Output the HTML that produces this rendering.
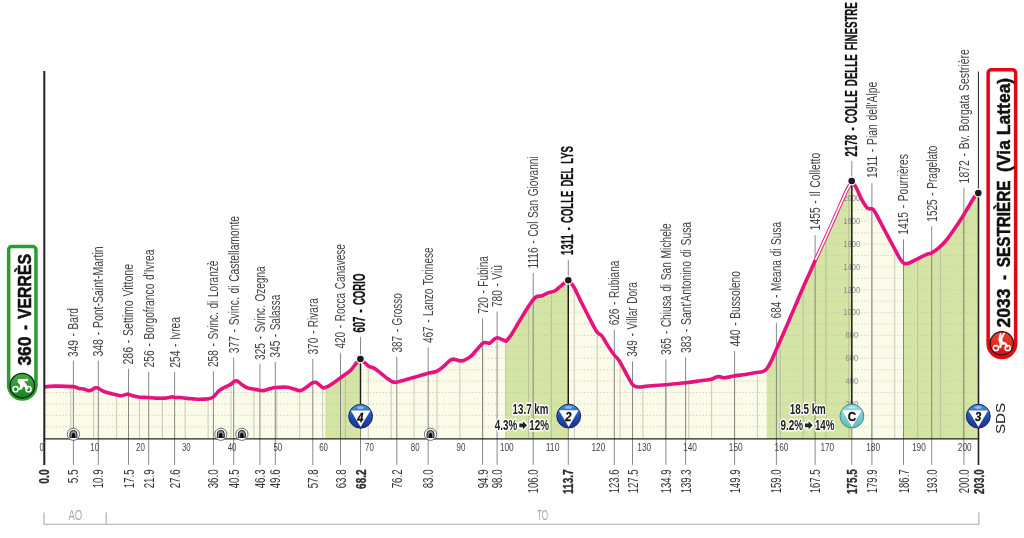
<!DOCTYPE html>
<html lang="it"><head><meta charset="utf-8"><title>Tappa 20 - Verrès - Sestrière (Via Lattea)</title>
<style>html,body{margin:0;padding:0;background:#fff}body{width:1024px;height:538px;overflow:hidden}svg{display:block}text{font-family:"Liberation Sans",Arial,Helvetica,sans-serif}.l{font-size:15px;fill:#444;word-spacing:1.2px}.b{font-weight:bold;fill:#111;font-size:16px;word-spacing:2.5px;stroke:#111;stroke-width:0.3px}.k{font-size:10px;fill:#444}.d{font-size:15px;fill:#333}.a{font-size:9px;fill:#8a8a8a}.g{font-size:14.5px;fill:#aaa}.t{font-size:19.5px;font-weight:bold;fill:#111}.c{font-size:15px;font-weight:bold;fill:#222}</style></head><body>
<svg width="1024" height="538" viewBox="0 0 1024 538">
<defs>
<clipPath id="cp"><polygon points="44.3,438.9 44.4,386.9 54.8,386.1 72.8,386.6 79.1,388.4 83.8,389.1 88.8,390.6 91.6,390.0 94.7,388.1 98.1,388.1 102.5,390.9 108.8,393.1 115.0,394.4 120.5,395.8 125.2,394.7 128.3,394.2 133.8,396.1 140.0,397.2 147.8,397.5 155.6,398.1 165.0,398.1 168.9,397.5 172.0,396.9 175.9,397.5 180.6,397.5 186.9,398.4 193.1,398.9 199.4,399.3 208.8,398.8 213.4,396.9 218.9,390.9 224.4,387.5 230.6,384.4 234.5,381.2 237.7,381.2 241.6,384.4 247.8,388.0 255.6,389.4 263.4,390.6 269.7,388.8 275.9,387.5 286.9,387.2 293.1,388.8 300.2,390.6 305.6,387.8 311.9,383.1 315.8,382.3 319.7,385.2 323.1,388.0 327.5,386.7 333.8,382.8 340.0,378.2 344.7,374.7 350.9,370.0 356.4,363.0 360.3,359.1 365.0,363.0 368.9,366.4 374.4,368.4 380.6,373.1 386.9,378.1 391.6,381.4 396.2,382.2 405.6,379.7 418.1,376.2 429.1,373.1 436.9,371.2 443.1,366.9 449.4,360.9 453.3,359.1 460.3,360.9 465.0,359.8 471.2,355.9 477.5,348.9 483.0,343.1 486.9,342.7 490.0,343.1 493.9,339.5 497.2,337.7 501.7,339.4 506.1,341.2 510.8,335.5 518.6,322.5 526.5,309.5 533.0,299.8 536.9,296.5 542.1,295.7 548.6,292.6 555.1,290.7 561.6,285.3 568.1,280.3 573.3,286.0 581.1,301.7 589.0,317.3 596.8,331.6 602.0,336.0 607.2,344.6 613.7,354.3 618.9,360.3 625.4,372.0 631.9,383.7 635.8,386.6 641.0,387.0 645.6,386.2 665.9,384.7 686.2,382.8 700.3,380.8 711.2,379.2 715.9,377.2 719.1,376.6 723.8,377.7 730.0,376.9 736.2,375.6 745.6,374.5 755.0,372.7 762.8,371.6 766.7,368.9 770.6,362.4 775.8,350.7 781.0,339.0 788.9,320.7 796.7,302.5 804.5,284.3 811.0,270.0 816.2,258.2 824.0,241.3 836.4,213.7 845.9,192.1 850.6,183.3 851.6,181.3 856.1,187.4 861.2,198.6 866.3,206.8 869.4,208.8 872.9,209.2 876.6,215.0 884.7,230.3 892.9,245.6 900.1,258.9 904.2,263.6 909.3,263.0 917.4,258.9 925.6,254.8 931.8,252.8 937.9,248.7 946.1,240.5 954.2,229.3 962.4,217.0 968.5,206.8 974.7,196.6 978.2,193.1 978.4,438.9"/></clipPath>
<linearGradient id="gb" x1="0" y1="0" x2="0" y2="1"><stop offset="0" stop-color="#4f9bdc"/><stop offset="0.45" stop-color="#2456b4"/><stop offset="1" stop-color="#1a2f8c"/></linearGradient>
<linearGradient id="gc" x1="0" y1="0" x2="0" y2="1"><stop offset="0" stop-color="#9adada"/><stop offset="1" stop-color="#62bcbc"/></linearGradient>
<linearGradient id="gg" x1="0" y1="0" x2="0" y2="1"><stop offset="0" stop-color="#3fae3a"/><stop offset="1" stop-color="#18802a"/></linearGradient>
<linearGradient id="gr" x1="0" y1="0" x2="0" y2="1"><stop offset="0" stop-color="#f0432e"/><stop offset="1" stop-color="#d01818"/></linearGradient>
<g id="tun"><circle r="6.1" fill="#fff" stroke="#4a4a4a" stroke-width="0.8"/><path d="M-3.5,3.1 V-0.4 A3.5,3.5 0 0 1 3.5,-0.4 V3.1 Z" fill="#8f8f8f" stroke="#23232b" stroke-width="1"/><path d="M-1.6,3.3 V0.2 A1.6,1.6 0 0 1 1.6,0.2 V3.3 Z" fill="#000"/></g>
</defs>
<rect width="1024" height="538" fill="#fff"/>
<polygon points="44.3,438.9 44.4,386.9 54.8,386.1 72.8,386.6 79.1,388.4 83.8,389.1 88.8,390.6 91.6,390.0 94.7,388.1 98.1,388.1 102.5,390.9 108.8,393.1 115.0,394.4 120.5,395.8 125.2,394.7 128.3,394.2 133.8,396.1 140.0,397.2 147.8,397.5 155.6,398.1 165.0,398.1 168.9,397.5 172.0,396.9 175.9,397.5 180.6,397.5 186.9,398.4 193.1,398.9 199.4,399.3 208.8,398.8 213.4,396.9 218.9,390.9 224.4,387.5 230.6,384.4 234.5,381.2 237.7,381.2 241.6,384.4 247.8,388.0 255.6,389.4 263.4,390.6 269.7,388.8 275.9,387.5 286.9,387.2 293.1,388.8 300.2,390.6 305.6,387.8 311.9,383.1 315.8,382.3 319.7,385.2 323.1,388.0 327.5,386.7 333.8,382.8 340.0,378.2 344.7,374.7 350.9,370.0 356.4,363.0 360.3,359.1 365.0,363.0 368.9,366.4 374.4,368.4 380.6,373.1 386.9,378.1 391.6,381.4 396.2,382.2 405.6,379.7 418.1,376.2 429.1,373.1 436.9,371.2 443.1,366.9 449.4,360.9 453.3,359.1 460.3,360.9 465.0,359.8 471.2,355.9 477.5,348.9 483.0,343.1 486.9,342.7 490.0,343.1 493.9,339.5 497.2,337.7 501.7,339.4 506.1,341.2 510.8,335.5 518.6,322.5 526.5,309.5 533.0,299.8 536.9,296.5 542.1,295.7 548.6,292.6 555.1,290.7 561.6,285.3 568.1,280.3 573.3,286.0 581.1,301.7 589.0,317.3 596.8,331.6 602.0,336.0 607.2,344.6 613.7,354.3 618.9,360.3 625.4,372.0 631.9,383.7 635.8,386.6 641.0,387.0 645.6,386.2 665.9,384.7 686.2,382.8 700.3,380.8 711.2,379.2 715.9,377.2 719.1,376.6 723.8,377.7 730.0,376.9 736.2,375.6 745.6,374.5 755.0,372.7 762.8,371.6 766.7,368.9 770.6,362.4 775.8,350.7 781.0,339.0 788.9,320.7 796.7,302.5 804.5,284.3 811.0,270.0 816.2,258.2 824.0,241.3 836.4,213.7 845.9,192.1 850.6,183.3 851.6,181.3 856.1,187.4 861.2,198.6 866.3,206.8 869.4,208.8 872.9,209.2 876.6,215.0 884.7,230.3 892.9,245.6 900.1,258.9 904.2,263.6 909.3,263.0 917.4,258.9 925.6,254.8 931.8,252.8 937.9,248.7 946.1,240.5 954.2,229.3 962.4,217.0 968.5,206.8 974.7,196.6 978.2,193.1 978.4,438.9" fill="#fbfbe9"/>
<g clip-path="url(#cp)">
<rect x="325.3" y="150" width="35.2" height="288.9" fill="#d4e4a4"/>
<rect x="505.8" y="150" width="62.5" height="288.9" fill="#d4e4a4"/>
<rect x="766.7" y="150" width="85.1" height="288.9" fill="#d4e4a4"/>
<rect x="903.5" y="150" width="74.9" height="288.9" fill="#d4e4a4"/>
<path d="M70.8,150V438.9M93.7,150V438.9M116.6,150V438.9M139.5,150V438.9M162.4,150V438.9M185.2,150V438.9M208.1,150V438.9M231.0,150V438.9M253.9,150V438.9M276.8,150V438.9M299.7,150V438.9M322.6,150V438.9M345.4,150V438.9M368.3,150V438.9M391.2,150V438.9M414.1,150V438.9M437.0,150V438.9M459.9,150V438.9M482.7,150V438.9M505.6,150V438.9M528.5,150V438.9M551.4,150V438.9M574.3,150V438.9M597.2,150V438.9M620.1,150V438.9M642.9,150V438.9M665.8,150V438.9M688.7,150V438.9M711.6,150V438.9M734.5,150V438.9M757.4,150V438.9M780.2,150V438.9M803.1,150V438.9M826.0,150V438.9M848.9,150V438.9M871.8,150V438.9M894.7,150V438.9M917.6,150V438.9M940.4,150V438.9M963.3,150V438.9" stroke="#a3a392" stroke-width="0.7" fill="none" opacity="0.8"/>
<path d="M46,426.8H978M46,415.4H978M46,404.0H978M46,392.5H978M46,381.1H978M46,369.7H978M46,358.3H978M46,346.9H978M46,335.4H978M46,324.0H978M46,312.6H978M46,301.2H978M46,289.8H978M46,278.3H978M46,266.9H978M46,255.5H978M46,244.1H978M46,232.7H978M46,221.2H978M46,209.8H978M46,198.4H978M46,187.0H978" stroke="#c2c2b4" stroke-width="1" stroke-dasharray="1.2 2.1" fill="none" opacity="0.8"/>
</g>
<path d="M73.4,360.5V464.9M98.3,360.5V464.9M128.5,368.8V464.9M148.7,371.9V464.9M174.6,371.9V464.9M213.4,371.3V464.9M233.7,357.6V464.9M259.9,363.8V464.9M275.3,361.7V464.9M312.8,358.8V464.9M340.5,352.9V464.9M360.5,336.9V464.9M396.8,356.8V464.9M428.2,347.2V464.9M482.6,318.3V464.9M497.1,311.4V464.9M533.2,272.9V464.9M568.3,259.7V464.9M614.3,329.6V464.9M632.5,361.3V464.9M665.9,359.3V464.9M685.6,357.4V464.9M734.6,350.9V464.9M776.4,322.8V464.9M815.1,235.2V464.9M851.8,160.8V464.9M871.9,183.2V464.9M903.5,239.4V464.9M931.7,226.4V464.9M963.9,187.8V464.9" stroke="#7a7a7a" stroke-width="0.9" fill="none"/>
<text class="a" x="851.8" y="406.8" text-anchor="middle" textLength="12.6" lengthAdjust="spacingAndGlyphs">200</text>
<text class="a" x="851.8" y="383.9" text-anchor="middle" textLength="12.6" lengthAdjust="spacingAndGlyphs">400</text>
<text class="a" x="851.8" y="361.1" text-anchor="middle" textLength="12.6" lengthAdjust="spacingAndGlyphs">600</text>
<text class="a" x="851.8" y="338.2" text-anchor="middle" textLength="12.6" lengthAdjust="spacingAndGlyphs">800</text>
<text class="a" x="851.8" y="315.4" text-anchor="middle" textLength="17" lengthAdjust="spacingAndGlyphs">1000</text>
<text class="a" x="851.8" y="292.6" text-anchor="middle" textLength="17" lengthAdjust="spacingAndGlyphs">1200</text>
<text class="a" x="851.8" y="269.7" text-anchor="middle" textLength="17" lengthAdjust="spacingAndGlyphs">1400</text>
<text class="a" x="851.8" y="246.9" text-anchor="middle" textLength="17" lengthAdjust="spacingAndGlyphs">1600</text>
<text class="a" x="851.8" y="224.0" text-anchor="middle" textLength="17" lengthAdjust="spacingAndGlyphs">1800</text>
<text class="a" x="851.8" y="201.2" text-anchor="middle" textLength="17" lengthAdjust="spacingAndGlyphs">2000</text>
<path d="M44.40,386.90 C44.40,386.90 50.07,386.15 54.80,386.10 C59.53,386.05 68.75,386.22 72.80,386.60 C76.85,386.98 77.27,387.98 79.10,388.40 C80.92,388.82 82.14,388.73 83.75,389.10 C85.36,389.47 87.44,390.45 88.75,390.60 C90.06,390.75 90.61,390.42 91.60,390.00 C92.59,389.58 93.62,388.42 94.70,388.10 C95.78,387.78 96.80,387.63 98.10,388.10 C99.40,388.57 100.72,390.07 102.50,390.90 C104.28,391.73 106.67,392.52 108.75,393.10 C110.83,393.68 113.04,393.95 115.00,394.40 C116.96,394.85 118.80,395.75 120.50,395.80 C122.20,395.85 123.90,394.97 125.20,394.70 C126.50,394.43 126.88,393.97 128.30,394.20 C129.73,394.43 131.80,395.60 133.75,396.10 C135.70,396.60 137.66,396.97 140.00,397.20 C142.34,397.43 145.20,397.35 147.80,397.50 C150.40,397.65 152.73,398.00 155.60,398.10 C158.47,398.20 162.78,398.20 165.00,398.10 C167.22,398.00 167.73,397.70 168.90,397.50 C170.07,397.30 170.83,396.90 172.00,396.90 C173.17,396.90 174.47,397.40 175.90,397.50 C177.33,397.60 178.77,397.35 180.60,397.50 C182.43,397.65 184.82,398.17 186.90,398.40 C188.98,398.63 191.02,398.75 193.10,398.90 C195.18,399.05 196.79,399.32 199.40,399.30 C202.01,399.28 206.42,399.15 208.75,398.75 C211.08,398.35 211.71,398.21 213.40,396.90 C215.09,395.59 217.07,392.47 218.90,390.90 C220.73,389.33 222.45,388.58 224.40,387.50 C226.35,386.42 228.92,385.44 230.60,384.40 C232.28,383.36 233.32,381.77 234.50,381.25 C235.68,380.73 236.52,380.73 237.70,381.25 C238.88,381.77 239.92,383.27 241.60,384.40 C243.28,385.52 245.47,387.17 247.80,388.00 C250.13,388.83 253.00,388.97 255.60,389.40 C258.20,389.83 261.05,390.71 263.40,390.60 C265.75,390.49 267.62,389.27 269.70,388.75 C271.78,388.23 273.03,387.76 275.90,387.50 C278.77,387.24 284.03,386.99 286.90,387.20 C289.77,387.41 290.88,388.18 293.10,388.75 C295.32,389.32 298.12,390.76 300.20,390.60 C302.28,390.44 303.65,389.05 305.60,387.80 C307.55,386.55 310.20,384.02 311.90,383.10 C313.60,382.18 314.50,381.95 315.80,382.30 C317.10,382.65 318.48,384.25 319.70,385.20 C320.92,386.15 323.10,388.00 323.10,388.00 C323.10,388.00 325.73,387.57 327.50,386.70 C329.27,385.83 331.67,384.22 333.75,382.80 C335.83,381.38 338.18,379.55 340.00,378.20 C341.82,376.85 342.88,376.07 344.70,374.70 C346.52,373.33 348.95,371.95 350.90,370.00 C352.85,368.05 354.83,364.82 356.40,363.00 C357.97,361.18 360.30,359.10 360.30,359.10 C360.30,359.10 363.57,361.78 365.00,363.00 C366.43,364.22 367.33,365.50 368.90,366.40 C370.47,367.30 372.45,367.28 374.40,368.40 C376.35,369.52 378.52,371.48 380.60,373.10 C382.68,374.72 385.07,376.72 386.90,378.10 C388.73,379.48 390.04,380.72 391.60,381.40 C393.16,382.08 393.92,382.48 396.25,382.20 C398.58,381.92 401.96,380.69 405.60,379.70 C409.24,378.71 414.18,377.35 418.10,376.25 C422.02,375.15 425.97,373.93 429.10,373.10 C432.23,372.27 434.57,372.28 436.90,371.25 C439.23,370.22 441.02,368.62 443.10,366.90 C445.18,365.17 447.70,362.20 449.40,360.90 C451.10,359.60 451.48,359.10 453.30,359.10 C455.12,359.10 458.35,360.78 460.30,360.90 C462.25,361.02 463.18,360.63 465.00,359.80 C466.82,358.97 469.17,357.72 471.25,355.90 C473.33,354.08 475.54,351.03 477.50,348.90 C479.46,346.77 481.43,344.13 483.00,343.10 C484.57,342.07 485.73,342.70 486.90,342.70 C488.07,342.70 488.83,343.63 490.00,343.10 C491.17,342.57 492.70,340.40 493.90,339.50 C495.10,338.60 495.90,337.72 497.20,337.70 C498.50,337.68 500.22,338.81 501.70,339.40 C503.18,339.99 506.10,341.25 506.10,341.25 C506.10,341.25 508.72,338.62 510.80,335.50 C512.88,332.38 515.98,326.83 518.60,322.50 C521.22,318.17 524.10,313.28 526.50,309.50 C528.90,305.72 531.27,301.97 533.00,299.80 C534.73,297.63 535.38,297.18 536.90,296.50 C538.42,295.82 540.15,296.35 542.10,295.70 C544.05,295.05 546.43,293.43 548.60,292.60 C550.77,291.77 552.93,291.92 555.10,290.70 C557.27,289.48 559.43,287.03 561.60,285.30 C563.77,283.57 568.10,280.30 568.10,280.30 C568.10,280.30 571.13,282.43 573.30,286.00 C575.47,289.57 578.48,296.48 581.10,301.70 C583.72,306.92 586.38,312.32 589.00,317.30 C591.62,322.28 594.63,328.48 596.80,331.60 C598.97,334.72 600.27,333.83 602.00,336.00 C603.73,338.17 605.25,341.55 607.20,344.60 C609.15,347.65 611.75,351.68 613.70,354.30 C615.65,356.92 616.95,357.35 618.90,360.30 C620.85,363.25 623.23,368.10 625.40,372.00 C627.57,375.90 630.17,381.27 631.90,383.70 C633.63,386.13 634.28,386.05 635.80,386.60 C637.32,387.15 639.37,387.06 641.00,387.00 C642.63,386.94 642.51,386.54 645.60,386.25 C649.75,385.87 659.12,385.27 665.90,384.70 C672.67,384.12 680.52,383.45 686.25,382.80 C691.98,382.15 696.13,381.40 700.30,380.80 C704.47,380.20 708.65,379.80 711.25,379.20 C713.85,378.60 714.59,377.63 715.90,377.20 C717.21,376.77 717.79,376.52 719.10,376.60 C720.41,376.68 721.93,377.65 723.75,377.70 C725.57,377.75 727.92,377.25 730.00,376.90 C732.08,376.55 733.65,376.00 736.25,375.60 C738.85,375.20 742.48,374.98 745.60,374.50 C748.73,374.02 752.13,373.18 755.00,372.70 C757.87,372.22 760.85,372.23 762.80,371.60 C764.75,370.97 765.40,370.43 766.70,368.90 C768.00,367.37 769.08,365.43 770.60,362.40 C772.12,359.37 774.07,354.60 775.80,350.70 C777.53,346.80 778.82,344.00 781.00,339.00 C783.18,334.00 786.28,326.78 788.90,320.70 C791.52,314.62 794.10,308.57 796.70,302.50 C799.30,296.43 802.12,289.72 804.50,284.30 C806.88,278.88 809.05,274.35 811.00,270.00 C812.95,265.65 814.03,262.98 816.20,258.20 C818.37,253.42 820.63,248.72 824.00,241.30 C827.37,233.88 832.75,221.90 836.40,213.70 C840.05,205.50 843.53,197.17 845.90,192.10 C848.27,187.03 849.65,185.10 850.60,183.30 C851.30,181.98 851.60,181.30 851.60,181.30 C851.60,181.30 854.50,184.52 856.10,187.40 C857.70,190.28 859.50,195.37 861.20,198.60 C862.90,201.83 864.93,205.10 866.30,206.80 C867.67,208.50 868.30,208.40 869.40,208.80 C870.50,209.20 871.70,208.17 872.90,209.20 C874.10,210.23 874.63,211.48 876.60,215.00 C878.57,218.52 881.98,225.20 884.70,230.30 C887.42,235.40 890.33,240.83 892.90,245.60 C895.47,250.37 898.22,255.90 900.10,258.90 C901.98,261.90 904.20,263.60 904.20,263.60 C904.20,263.60 907.10,263.78 909.30,263.00 C911.50,262.22 914.68,260.27 917.40,258.90 C920.12,257.53 923.21,255.82 925.60,254.80 C927.99,253.78 929.70,253.82 931.75,252.80 C933.80,251.78 935.51,250.75 937.90,248.70 C940.29,246.65 943.38,243.73 946.10,240.50 C948.82,237.27 951.48,233.22 954.20,229.30 C956.92,225.38 960.02,220.75 962.40,217.00 C964.78,213.25 966.45,210.20 968.50,206.80 C970.55,203.40 973.08,198.88 974.70,196.60 C976.32,194.32 978.20,193.10 978.20,193.10" fill="none" stroke="#e6137f" stroke-width="3.6" stroke-linejoin="round" stroke-linecap="butt"/>
<path d="M815.4,260.0 L816.2,258.2 L824.0,241.3 L836.4,213.7 L845.9,192.1 L850.2,184.2" fill="none" stroke="#fff" stroke-width="1.7" stroke-linecap="butt"/>
<path d="M360.5,359V404M568.3,280V404M851.8,181V404" stroke="#1a1a1a" stroke-width="1.4" fill="none"/>
<path d="M978.4,71.5V193" stroke="#222" stroke-width="1" fill="none"/>
<path d="M44.3,71V464.9" stroke="#222" stroke-width="2" fill="none"/>
<path d="M43.3,438.9H979.2" stroke="#222" stroke-width="1.4" fill="none"/>
<path d="M978.5,193V464.9" stroke="#222" stroke-width="1.6" fill="none"/>
<circle cx="360.4" cy="359.0" r="3.9" fill="#1a1a1a" stroke="#fff" stroke-width="1.2"/>
<circle cx="568.3" cy="280.2" r="3.9" fill="#1a1a1a" stroke="#fff" stroke-width="1.2"/>
<circle cx="851.7" cy="181.0" r="3.9" fill="#1a1a1a" stroke="#fff" stroke-width="1.2"/>
<circle cx="978.3" cy="193.1" r="3.9" fill="#1a1a1a" stroke="#fff" stroke-width="1.2"/>
<use href="#tun" x="73.4" y="434.3"/>
<use href="#tun" x="220.8" y="434.3"/>
<use href="#tun" x="241.9" y="434.3"/>
<use href="#tun" x="430.5" y="434.3"/>
<g transform="translate(360.6,416.3)">
<circle r="11.9" fill="url(#gb)" stroke="#14206a" stroke-width="1"/>
<ellipse cx="0" cy="-8.6" rx="3.4" ry="1.3" fill="#fff" opacity="0.45"/>
<polygon points="-9.8,-5.8 9.8,-5.8 0,10.8" fill="#fff"/>
<text x="-0.3" y="5.2" text-anchor="middle" textLength="6.2" lengthAdjust="spacingAndGlyphs" style="font-size:12px;font-weight:bold;font-style:italic;fill:#111" stroke="#111" stroke-width="0.3">4</text>
</g>
<g transform="translate(568.7,416.1)">
<circle r="11.9" fill="url(#gb)" stroke="#14206a" stroke-width="1"/>
<ellipse cx="0" cy="-8.6" rx="3.4" ry="1.3" fill="#fff" opacity="0.45"/>
<polygon points="-9.8,-5.8 9.8,-5.8 0,10.8" fill="#fff"/>
<text x="-0.3" y="5.2" text-anchor="middle" textLength="6.2" lengthAdjust="spacingAndGlyphs" style="font-size:12px;font-weight:bold;font-style:italic;fill:#111" stroke="#111" stroke-width="0.3">2</text>
</g>
<g transform="translate(851.9,416.1)">
<circle r="11.9" fill="url(#gc)" stroke="#3f9090" stroke-width="1"/>
<ellipse cx="0" cy="-8.6" rx="3.4" ry="1.3" fill="#fff" opacity="0.45"/>
<polygon points="-9.8,-5.8 9.8,-5.8 0,10.8" fill="#fff"/>
<text x="0.0" y="5.2" text-anchor="middle" textLength="8.4" lengthAdjust="spacingAndGlyphs" style="font-size:12px;font-weight:bold;fill:#111" stroke="#111" stroke-width="0.3">C</text>
</g>
<g transform="translate(978.3,416.2)">
<circle r="11.9" fill="url(#gb)" stroke="#14206a" stroke-width="1"/>
<ellipse cx="0" cy="-8.6" rx="3.4" ry="1.3" fill="#fff" opacity="0.45"/>
<polygon points="-9.8,-5.8 9.8,-5.8 0,10.8" fill="#fff"/>
<text x="-0.3" y="5.2" text-anchor="middle" textLength="6.2" lengthAdjust="spacingAndGlyphs" style="font-size:12px;font-weight:bold;font-style:italic;fill:#111" stroke="#111" stroke-width="0.3">3</text>
</g>
<text class="l" transform="translate(78.3,357.0) rotate(-90)" textLength="48.9" lengthAdjust="spacingAndGlyphs">349 - Bard</text>
<text class="l" transform="translate(103.2,356.6) rotate(-90)" textLength="110.2" lengthAdjust="spacingAndGlyphs">348 - Pont-Saint-Martin</text>
<text class="l" transform="translate(133.4,364.5) rotate(-90)" textLength="100.5" lengthAdjust="spacingAndGlyphs">286 - Settimo Vittone</text>
<text class="l" transform="translate(153.6,367.4) rotate(-90)" textLength="117.9" lengthAdjust="spacingAndGlyphs">256 - Borgofranco d'Ivrea</text>
<text class="l" transform="translate(179.5,367.8) rotate(-90)" textLength="50.8" lengthAdjust="spacingAndGlyphs">254 - Ivrea</text>
<text class="l" transform="translate(218.3,367.0) rotate(-90)" textLength="106.4" lengthAdjust="spacingAndGlyphs">258 - Svinc. di Loranzè</text>
<text class="l" transform="translate(238.6,353.3) rotate(-90)" textLength="137.3" lengthAdjust="spacingAndGlyphs">377 - Svinc. di Castellamonte</text>
<text class="l" transform="translate(264.8,359.9) rotate(-90)" textLength="93.5" lengthAdjust="spacingAndGlyphs">325 - Svinc. Ozegna</text>
<text class="l" transform="translate(280.2,357.4) rotate(-90)" textLength="62.6" lengthAdjust="spacingAndGlyphs">345 - Salassa</text>
<text class="l" transform="translate(317.7,354.5) rotate(-90)" textLength="56.4" lengthAdjust="spacingAndGlyphs">370 - Rivara</text>
<text class="l" transform="translate(345.4,348.6) rotate(-90)" textLength="104.5" lengthAdjust="spacingAndGlyphs">420 - Rocca Canavese</text>
<text class="l b" transform="translate(365.4,332.6) rotate(-90)" textLength="59.0" lengthAdjust="spacingAndGlyphs">607 - CORIO</text>
<text class="l" transform="translate(401.7,352.5) rotate(-90)" textLength="59.3" lengthAdjust="spacingAndGlyphs">387 - Grosso</text>
<text class="l" transform="translate(433.1,343.1) rotate(-90)" textLength="95.6" lengthAdjust="spacingAndGlyphs">467 - Lanzo Torinese</text>
<text class="l" transform="translate(487.5,313.8) rotate(-90)" textLength="57.6" lengthAdjust="spacingAndGlyphs">720 - Fubina</text>
<text class="l" transform="translate(502.0,307.1) rotate(-90)" textLength="41.9" lengthAdjust="spacingAndGlyphs">780 - Viù</text>
<text class="l" transform="translate(538.1,268.4) rotate(-90)" textLength="112.1" lengthAdjust="spacingAndGlyphs">1116 - Col San Giovanni</text>
<text class="l b" transform="translate(573.2,254.9) rotate(-90)" textLength="108.8" lengthAdjust="spacingAndGlyphs">1311 - COLLE DEL LYS</text>
<text class="l" transform="translate(619.2,325.3) rotate(-90)" textLength="64.6" lengthAdjust="spacingAndGlyphs">626 - Rubiana</text>
<text class="l" transform="translate(637.4,356.8) rotate(-90)" textLength="74.7" lengthAdjust="spacingAndGlyphs">349 - Villar Dora</text>
<text class="l" transform="translate(670.8,355.0) rotate(-90)" textLength="131.8" lengthAdjust="spacingAndGlyphs">365 - Chiusa di San Michele</text>
<text class="l" transform="translate(690.5,353.1) rotate(-90)" textLength="131.2" lengthAdjust="spacingAndGlyphs">383 - Sant'Antonino di Susa</text>
<text class="l" transform="translate(739.5,346.6) rotate(-90)" textLength="75.6" lengthAdjust="spacingAndGlyphs">440 - Bussoleno</text>
<text class="l" transform="translate(781.3,318.5) rotate(-90)" textLength="96.7" lengthAdjust="spacingAndGlyphs">684 - Meana di Susa</text>
<text class="l" transform="translate(820.0,230.2) rotate(-90)" textLength="77.4" lengthAdjust="spacingAndGlyphs">1455 - Il Colletto</text>
<text class="l b" transform="translate(856.7,156.4) rotate(-90)" textLength="154.2" lengthAdjust="spacingAndGlyphs">2178 - COLLE DELLE FINESTRE</text>
<text class="l" transform="translate(876.8,178.1) rotate(-90)" textLength="96.3" lengthAdjust="spacingAndGlyphs">1911 - Pian dell'Alpe</text>
<text class="l" transform="translate(908.4,234.7) rotate(-90)" textLength="80.5" lengthAdjust="spacingAndGlyphs">1415 - Pourrières</text>
<text class="l" transform="translate(936.6,221.7) rotate(-90)" textLength="76.1" lengthAdjust="spacingAndGlyphs">1525 - Pragelato</text>
<text class="l" transform="translate(968.8,183.4) rotate(-90)" textLength="134.1" lengthAdjust="spacingAndGlyphs">1872 - Bv. Borgata Sestrière</text>
<text class="d b" transform="translate(49.3,469.4) rotate(-90)" text-anchor="end" textLength="14.3" lengthAdjust="spacingAndGlyphs">0.0</text>
<text class="d" transform="translate(78.4,469.4) rotate(-90)" text-anchor="end" textLength="13.9" lengthAdjust="spacingAndGlyphs">5.5</text>
<text class="d" transform="translate(103.3,469.4) rotate(-90)" text-anchor="end" textLength="18.9" lengthAdjust="spacingAndGlyphs">10.9</text>
<text class="d" transform="translate(133.5,469.4) rotate(-90)" text-anchor="end" textLength="18.9" lengthAdjust="spacingAndGlyphs">17.5</text>
<text class="d" transform="translate(153.7,469.4) rotate(-90)" text-anchor="end" textLength="18.9" lengthAdjust="spacingAndGlyphs">21.9</text>
<text class="d" transform="translate(179.6,469.4) rotate(-90)" text-anchor="end" textLength="18.9" lengthAdjust="spacingAndGlyphs">27.6</text>
<text class="d" transform="translate(218.4,469.4) rotate(-90)" text-anchor="end" textLength="18.9" lengthAdjust="spacingAndGlyphs">36.0</text>
<text class="d" transform="translate(238.7,469.4) rotate(-90)" text-anchor="end" textLength="18.9" lengthAdjust="spacingAndGlyphs">40.5</text>
<text class="d" transform="translate(264.9,469.4) rotate(-90)" text-anchor="end" textLength="18.9" lengthAdjust="spacingAndGlyphs">46.3</text>
<text class="d" transform="translate(280.3,469.4) rotate(-90)" text-anchor="end" textLength="18.9" lengthAdjust="spacingAndGlyphs">49.6</text>
<text class="d" transform="translate(317.8,469.4) rotate(-90)" text-anchor="end" textLength="18.9" lengthAdjust="spacingAndGlyphs">57.8</text>
<text class="d" transform="translate(345.5,469.4) rotate(-90)" text-anchor="end" textLength="18.9" lengthAdjust="spacingAndGlyphs">63.8</text>
<text class="d b" transform="translate(365.5,469.4) rotate(-90)" text-anchor="end" textLength="19.5" lengthAdjust="spacingAndGlyphs">68.2</text>
<text class="d" transform="translate(401.8,469.4) rotate(-90)" text-anchor="end" textLength="18.9" lengthAdjust="spacingAndGlyphs">76.2</text>
<text class="d" transform="translate(433.2,469.4) rotate(-90)" text-anchor="end" textLength="18.9" lengthAdjust="spacingAndGlyphs">83.0</text>
<text class="d" transform="translate(487.6,469.4) rotate(-90)" text-anchor="end" textLength="18.9" lengthAdjust="spacingAndGlyphs">94.9</text>
<text class="d" transform="translate(502.1,469.4) rotate(-90)" text-anchor="end" textLength="18.9" lengthAdjust="spacingAndGlyphs">98.0</text>
<text class="d" transform="translate(538.2,469.4) rotate(-90)" text-anchor="end" textLength="23.9" lengthAdjust="spacingAndGlyphs">106.0</text>
<text class="d b" transform="translate(573.3,469.4) rotate(-90)" text-anchor="end" textLength="24.6" lengthAdjust="spacingAndGlyphs">113.7</text>
<text class="d" transform="translate(619.3,469.4) rotate(-90)" text-anchor="end" textLength="23.9" lengthAdjust="spacingAndGlyphs">123.6</text>
<text class="d" transform="translate(637.5,469.4) rotate(-90)" text-anchor="end" textLength="23.9" lengthAdjust="spacingAndGlyphs">127.5</text>
<text class="d" transform="translate(670.9,469.4) rotate(-90)" text-anchor="end" textLength="23.9" lengthAdjust="spacingAndGlyphs">134.9</text>
<text class="d" transform="translate(690.6,469.4) rotate(-90)" text-anchor="end" textLength="23.9" lengthAdjust="spacingAndGlyphs">139.3</text>
<text class="d" transform="translate(739.6,469.4) rotate(-90)" text-anchor="end" textLength="23.9" lengthAdjust="spacingAndGlyphs">149.9</text>
<text class="d" transform="translate(781.4,469.4) rotate(-90)" text-anchor="end" textLength="23.9" lengthAdjust="spacingAndGlyphs">159.0</text>
<text class="d" transform="translate(820.1,469.4) rotate(-90)" text-anchor="end" textLength="23.9" lengthAdjust="spacingAndGlyphs">167.5</text>
<text class="d b" transform="translate(856.8,469.4) rotate(-90)" text-anchor="end" textLength="24.6" lengthAdjust="spacingAndGlyphs">175.5</text>
<text class="d" transform="translate(876.9,469.4) rotate(-90)" text-anchor="end" textLength="23.9" lengthAdjust="spacingAndGlyphs">179.9</text>
<text class="d" transform="translate(908.5,469.4) rotate(-90)" text-anchor="end" textLength="23.9" lengthAdjust="spacingAndGlyphs">186.7</text>
<text class="d" transform="translate(936.7,469.4) rotate(-90)" text-anchor="end" textLength="23.9" lengthAdjust="spacingAndGlyphs">193.0</text>
<text class="d" transform="translate(968.9,469.4) rotate(-90)" text-anchor="end" textLength="23.9" lengthAdjust="spacingAndGlyphs">200.0</text>
<text class="d b" transform="translate(983.6,469.4) rotate(-90)" text-anchor="end" textLength="24.6" lengthAdjust="spacingAndGlyphs">203.0</text>
<text class="k" x="41.6" y="450.8" text-anchor="middle" textLength="4.3" lengthAdjust="spacingAndGlyphs">0</text>
<text class="k" x="94.7" y="450.8" text-anchor="middle" textLength="8.8" lengthAdjust="spacingAndGlyphs">10</text>
<text class="k" x="140.5" y="450.8" text-anchor="middle" textLength="8.8" lengthAdjust="spacingAndGlyphs">20</text>
<text class="k" x="186.3" y="450.8" text-anchor="middle" textLength="8.8" lengthAdjust="spacingAndGlyphs">30</text>
<text class="k" x="232.1" y="450.8" text-anchor="middle" textLength="8.8" lengthAdjust="spacingAndGlyphs">40</text>
<text class="k" x="277.8" y="450.8" text-anchor="middle" textLength="8.8" lengthAdjust="spacingAndGlyphs">50</text>
<text class="k" x="323.6" y="450.8" text-anchor="middle" textLength="8.8" lengthAdjust="spacingAndGlyphs">60</text>
<text class="k" x="369.4" y="450.8" text-anchor="middle" textLength="8.8" lengthAdjust="spacingAndGlyphs">70</text>
<text class="k" x="415.2" y="450.8" text-anchor="middle" textLength="8.8" lengthAdjust="spacingAndGlyphs">80</text>
<text class="k" x="461.0" y="450.8" text-anchor="middle" textLength="8.8" lengthAdjust="spacingAndGlyphs">90</text>
<text class="k" x="506.8" y="450.8" text-anchor="middle" textLength="13.8" lengthAdjust="spacingAndGlyphs">100</text>
<text class="k" x="552.6" y="450.8" text-anchor="middle" textLength="13.8" lengthAdjust="spacingAndGlyphs">110</text>
<text class="k" x="598.4" y="450.8" text-anchor="middle" textLength="13.8" lengthAdjust="spacingAndGlyphs">120</text>
<text class="k" x="644.2" y="450.8" text-anchor="middle" textLength="13.8" lengthAdjust="spacingAndGlyphs">130</text>
<text class="k" x="690.0" y="450.8" text-anchor="middle" textLength="13.8" lengthAdjust="spacingAndGlyphs">140</text>
<text class="k" x="735.7" y="450.8" text-anchor="middle" textLength="13.8" lengthAdjust="spacingAndGlyphs">150</text>
<text class="k" x="781.5" y="450.8" text-anchor="middle" textLength="13.8" lengthAdjust="spacingAndGlyphs">160</text>
<text class="k" x="827.3" y="450.8" text-anchor="middle" textLength="13.8" lengthAdjust="spacingAndGlyphs">170</text>
<text class="k" x="873.1" y="450.8" text-anchor="middle" textLength="13.8" lengthAdjust="spacingAndGlyphs">180</text>
<text class="k" x="918.9" y="450.8" text-anchor="middle" textLength="13.8" lengthAdjust="spacingAndGlyphs">190</text>
<text class="k" x="964.7" y="450.8" text-anchor="middle" textLength="13.8" lengthAdjust="spacingAndGlyphs">200</text>
<path d="M44,512.6V524.3H978.9V512.6M106.2,512.6V524.3" stroke="#aaa" stroke-width="1.1" fill="none"/>
<text class="g" x="75.3" y="519.6" text-anchor="middle" textLength="13.8" lengthAdjust="spacingAndGlyphs">AO</text>
<text class="g" x="542.5" y="519.6" text-anchor="middle" textLength="11.2" lengthAdjust="spacingAndGlyphs">TO</text>
<text class="c" x="512.6" y="414.3" textLength="35.9" lengthAdjust="spacingAndGlyphs" stroke="#fff" stroke-width="3" stroke-linejoin="round" paint-order="stroke">13.7 km</text>
<text class="c" x="494.8" y="429.9" textLength="22.3" lengthAdjust="spacingAndGlyphs" stroke="#fff" stroke-width="3" stroke-linejoin="round" paint-order="stroke">4.3%</text>
<text class="c" x="529.2" y="429.9" textLength="19.7" lengthAdjust="spacingAndGlyphs" stroke="#fff" stroke-width="3" stroke-linejoin="round" paint-order="stroke">12%</text>
<path d="M519.3,423.4 H522.9 V421.2 L527.0,425.3 L522.9,429.4 V427.2 H519.3 Z" fill="#222" stroke="#fff" stroke-width="3.2" stroke-linejoin="round" paint-order="stroke"/>
<text class="c" x="789.7" y="414.3" textLength="36.2" lengthAdjust="spacingAndGlyphs" stroke="#fff" stroke-width="3" stroke-linejoin="round" paint-order="stroke">18.5 km</text>
<text class="c" x="780.4" y="429.9" textLength="22.6" lengthAdjust="spacingAndGlyphs" stroke="#fff" stroke-width="3" stroke-linejoin="round" paint-order="stroke">9.2%</text>
<text class="c" x="814.9" y="429.9" textLength="19.6" lengthAdjust="spacingAndGlyphs" stroke="#fff" stroke-width="3" stroke-linejoin="round" paint-order="stroke">14%</text>
<path d="M805.0,423.4 H808.6 V421.2 L812.7,425.3 L808.6,429.4 V427.2 H805.0 Z" fill="#222" stroke="#fff" stroke-width="3.2" stroke-linejoin="round" paint-order="stroke"/>
<text transform="translate(1004.5,434.1) rotate(-90)" textLength="31.3" lengthAdjust="spacingAndGlyphs" style="font-size:12px;fill:#222">SDS</text>
<path d="M8.65,385.30 V249.75 A3.20,3.20 0 0 1 11.85,246.55 H32.75 A3.20,3.20 0 0 1 35.95,249.75 V385.30 A13.65,13.65 0 0 1 8.65,385.30 Z" fill="#fff" stroke="#2a9d2f" stroke-width="3.5"/>
<text class="t" transform="translate(30.5,0) rotate(-90)" style="font-size:19px" stroke="#111" stroke-width="0.5"><tspan x="-365.6" textLength="29.1" lengthAdjust="spacingAndGlyphs">360</tspan> <tspan x="-330.0" textLength="4.8" lengthAdjust="spacingAndGlyphs">-</tspan> <tspan x="-319.0" textLength="65.1" lengthAdjust="spacingAndGlyphs">VERRÈS</tspan></text>
<g transform="translate(22.3,385.7)">
<circle r="12.3" fill="url(#gg)" stroke="#0c2410" stroke-width="1.3"/>
<circle cx="-6.8" cy="3.5" r="2.6" fill="none" stroke="#fff" stroke-width="1.5"/><circle cx="6.2" cy="3.5" r="2.6" fill="none" stroke="#fff" stroke-width="1.5"/>
<path d="M-4.4,-6.6H3.2L4.6,-7.2L5.9,-6.2L5.2,-4.4H1.6L4.2,-1.2L6.4,3L4.8,3.8L1.4,0.6L-0.8,4H-3.4L-2.2,-0.4L-4.8,-3.8Z" fill="#fff"/>
</g>
<path d="M988.15,343.70 V73.05 A3.20,3.20 0 0 1 991.35,69.85 H1012.45 A3.20,3.20 0 0 1 1015.65,73.05 V343.70 A13.75,13.75 0 0 1 988.15,343.70 Z" fill="#fff" stroke="#e30613" stroke-width="3.5"/>
<text class="t" transform="translate(1009.7,0) rotate(-90)" style="font-size:19px" stroke="#111" stroke-width="0.5"><tspan x="-327.5" textLength="39.0" lengthAdjust="spacingAndGlyphs">2033</tspan> <tspan x="-280.0" textLength="4.8" lengthAdjust="spacingAndGlyphs">-</tspan> <tspan x="-267.3" textLength="86.9" lengthAdjust="spacingAndGlyphs">SESTRIÈRE</tspan> <tspan x="-171.9" textLength="94.1" lengthAdjust="spacingAndGlyphs" style="font-size:18.5px">(Via Lattea)</tspan></text>
<g transform="translate(1001.8,343.4)">
<circle r="11.7" fill="url(#gr)" stroke="#2a0808" stroke-width="1.3"/>
<circle cx="-5.9" cy="4.6" r="2.6" fill="none" stroke="#fff" stroke-width="1.5"/><circle cx="5.9" cy="4.6" r="2.6" fill="none" stroke="#fff" stroke-width="1.5"/>
<path d="M-3.4,-3.6L-2.6,-8.2L-1.6,-10.6L-0.4,-10.2L-0.6,-7.4L1.0,-9.6L2.4,-11L3.2,-10.2L1.8,-7.2L0.4,-4.4L1.2,-1.6L4.4,-0.6L6.4,3.6L5.0,4.4L2.6,1.2L0.2,1.4L-0.6,4.6H-2.6L-2.2,0.6Z" fill="#fff"/>
</g>
</svg></body></html>
